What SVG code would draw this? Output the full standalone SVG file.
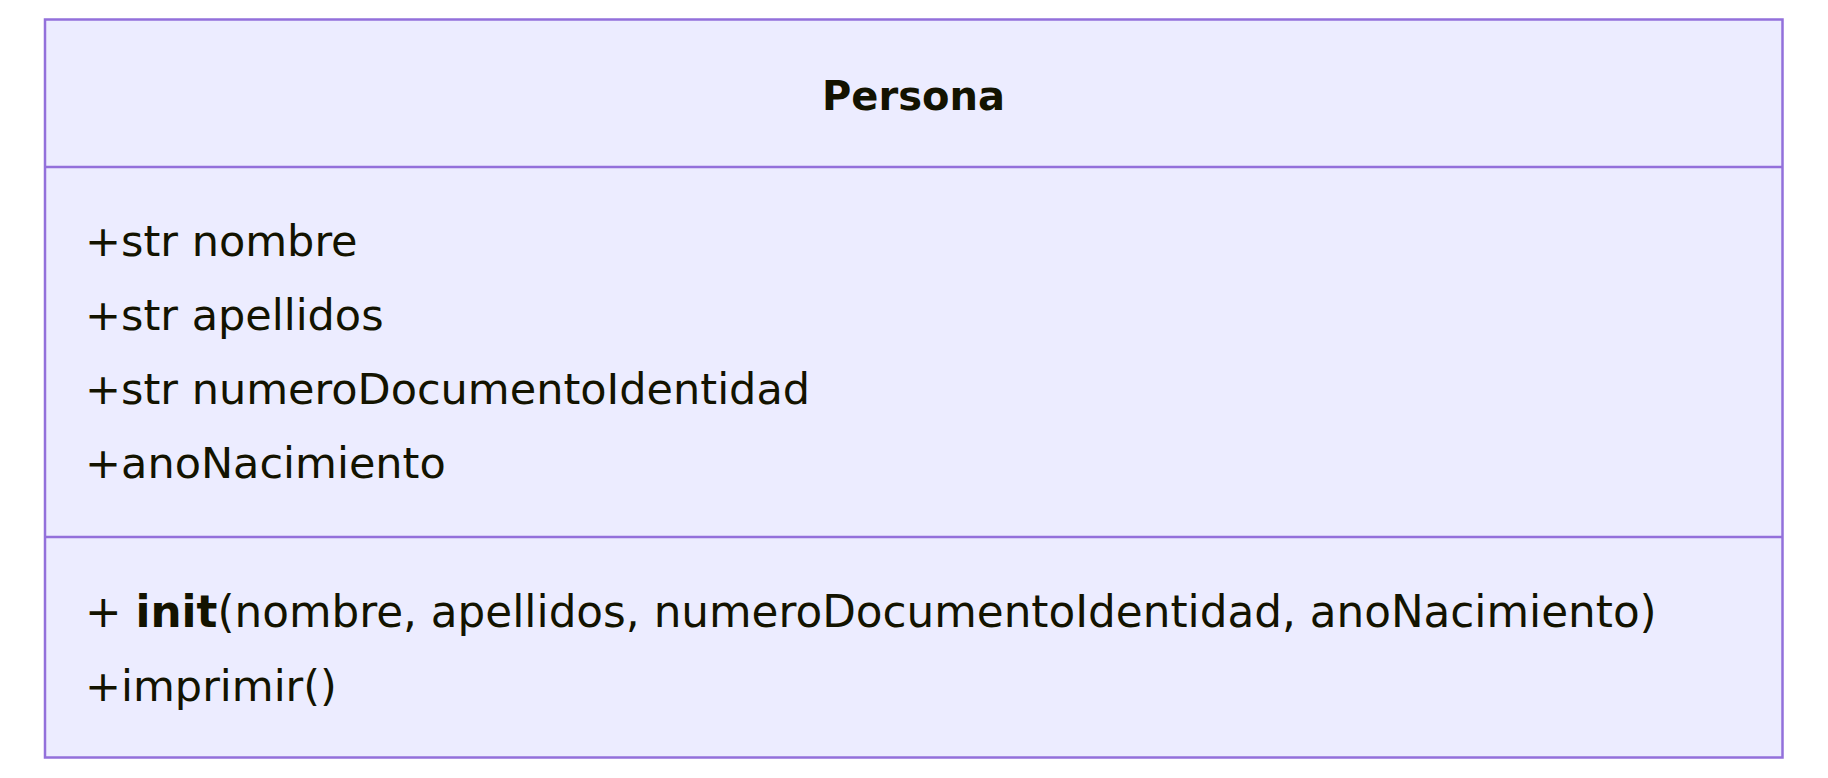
<svg xmlns="http://www.w3.org/2000/svg" width="1828" height="778" viewBox="0 0 1828 778">
<style>
.box{fill:#ECECFF;stroke:#9370DB;stroke-width:2.5}
.div{stroke:#9370DB;stroke-width:2.5}
text{font-family:"DejaVu Sans",Verdana,sans-serif;fill:#131300;font-size:43px}
.title{font-weight:bold;text-anchor:middle;font-size:40px}
</style>
<rect width="1828" height="778" fill="#ffffff"/>
<g id="Persona">
<rect class="box" x="45" y="19.5" width="1737.5" height="738"/>
<line class="div" x1="45" y1="167" x2="1782.5" y2="167"/>
<line class="div" x1="45" y1="537" x2="1782.5" y2="537"/>
<text class="title" x="913.5" y="110">Persona</text>
<text x="85" y="256">+str nombre</text>
<text x="85" y="330">+str apellidos</text>
<text x="85" y="404">+str numeroDocumentoIdentidad</text>
<text x="85" y="478">+anoNacimiento</text>
<text x="85" y="627" style="font-size:43.7px">+ <tspan font-weight="bold">init</tspan>(nombre, apellidos, numeroDocumentoIdentidad, anoNacimiento)</text>
<text x="85" y="701">+imprimir()</text>
</g>
<g id="connectors"/>
</svg>
